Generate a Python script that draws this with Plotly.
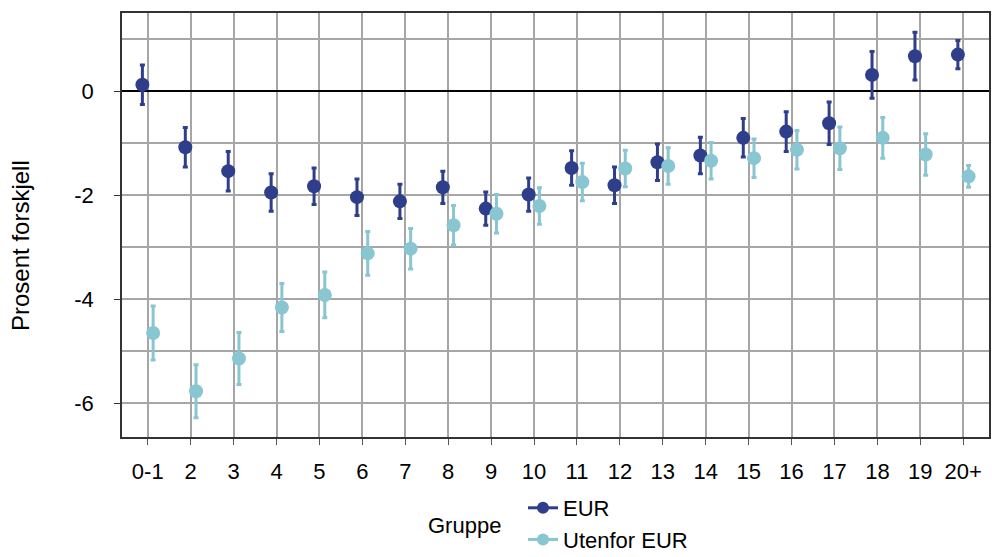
import plotly.graph_objects as go

# Age groups (x categories)
categories = ["0-1", "2", "3", "4", "5", "6", "7", "8", "9", "10",
              "11", "12", "13", "14", "15", "16", "17", "18", "19", "20+"]

# Percent difference and confidence half-widths per group
eur_values = [0.12, -1.08, -1.54, -1.95, -1.83, -2.04, -2.12, -1.85, -2.26, -1.99,
              -1.48, -1.81, -1.37, -1.24, -0.90, -0.78, -0.62, 0.31, 0.67, 0.70]
eur_err = [0.38, 0.38, 0.38, 0.36, 0.35, 0.35, 0.33, 0.31, 0.32, 0.32,
           0.33, 0.35, 0.35, 0.35, 0.37, 0.38, 0.41, 0.45, 0.46, 0.27]

utenfor_values = [-4.65, -5.77, -5.14, -4.16, -3.92, -3.12, -3.03, -2.58, -2.36, -2.21,
                  -1.75, -1.49, -1.44, -1.34, -1.29, -1.13, -1.10, -0.90, -1.22, -1.64]
utenfor_err = [0.52, 0.51, 0.50, 0.46, 0.44, 0.42, 0.39, 0.38, 0.37, 0.35,
               0.36, 0.35, 0.35, 0.35, 0.37, 0.37, 0.41, 0.39, 0.40, 0.21]

y_ticks = [-6, -4, -2, 0]

EUR_COLOR = "#2e3e8a"
UTENFOR_COLOR = "#88c6d1"
FONT = "Liberation Sans, Arial, sans-serif"

positions = list(range(len(categories)))
dodge = 0.125

fig = go.Figure()

series = [
    ("EUR", eur_values, eur_err, EUR_COLOR, -dodge),
    ("Utenfor EUR", utenfor_values, utenfor_err, UTENFOR_COLOR, dodge),
]

for name, vals, errs, color, shift in series:
    fig.add_trace(go.Scatter(
        x=[p + shift for p in positions],
        y=vals,
        mode="markers",
        marker=dict(size=14, color=color, line=dict(width=0)),
        error_y=dict(type="data", array=errs, visible=True,
                     color=color, thickness=3, width=2.5),
        name=name,
        showlegend=False,
        hoverinfo="skip",
    ))

# Legend entries (point with a short line, as a pointrange key)
for name, vals, errs, color, shift in series:
    fig.add_trace(go.Scatter(
        x=[None], y=[None],
        mode="lines+markers",
        marker=dict(size=12, color=color),
        line=dict(color=color, width=3),
        name=name,
        showlegend=True,
    ))

fig.update_layout(
    width=992,
    height=557,
    margin=dict(l=122, r=3, t=13, b=120, autoexpand=False),
    paper_bgcolor="white",
    plot_bgcolor="white",
    font=dict(family=FONT, size=22, color="black"),
    legend=dict(
        orientation="v",
        x=(523 - 122) / 867, xanchor="left",
        y=(437 - 487) / 424, yanchor="top",
        font=dict(size=22),
        itemwidth=30,
        tracegroupgap=0,
        bgcolor="rgba(0,0,0,0)",
    ),
    annotations=[
        dict(text="Gruppe", xref="paper", yref="paper",
             x=(464 - 122) / 867, y=(437 - 525) / 424,
             xanchor="center", yanchor="middle", showarrow=False,
             font=dict(size=22)),
        dict(text="Prosent forskjell", xref="paper", yref="paper",
             x=(20 - 122) / 867, y=1 - (246 - 13) / 424,
             xanchor="center", yanchor="middle", textangle=-90,
             showarrow=False, font=dict(size=24)),
    ],
)

fig.update_xaxes(
    range=[-0.6, len(categories) - 0.4],
    tickmode="array",
    tickvals=positions,
    ticktext=categories,
    ticks="outside", ticklen=6, tickwidth=1, tickcolor="#555",
    showgrid=True, gridcolor="#a6a6a6", gridwidth=1.5,
    showline=True, linecolor="#333", linewidth=1.5, mirror=True,
    zeroline=False,
    ticklabelstandoff=8,
)

fig.update_yaxes(
    range=[-6.65, 1.5],
    tickmode="array",
    tickvals=y_ticks,
    ticktext=[str(v) for v in y_ticks],
    ticks="outside", ticklen=6, tickwidth=1, tickcolor="#333",
    showgrid=True, gridcolor="#a6a6a6", gridwidth=1.5,
    minor=dict(dtick=1, tick0=0, showgrid=True, gridcolor="#a6a6a6",
               gridwidth=1.5, ticks=""),
    showline=True, linecolor="#333", linewidth=1.5, mirror=True,
    zeroline=True, zerolinecolor="black", zerolinewidth=1.5,
    ticklabelstandoff=16,
)

fig.write_html("out.html")
